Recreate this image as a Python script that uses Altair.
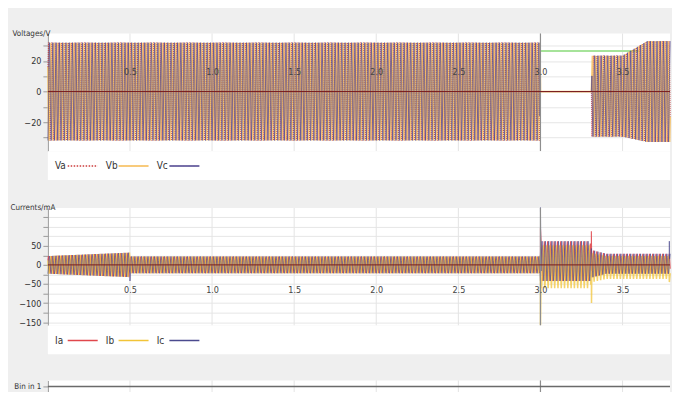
import numpy as np
import pandas as pd
import altair as alt

FONT = "Noto Sans ExtraCondensed, Noto Sans Condensed, DejaVu Sans Condensed, sans-serif"

# ---------------- data ----------------
T_END = 3.789                       # right edge of the visible time axis (s)
FREQ = 50                           # mains frequency of the traces (Hz)
CYCLE = [0.5, 1.0, 0.5, -0.5, -1.0, -0.5]   # one period, sampled 6 times
SHIFT = {"a": 0, "b": 2, "c": 4}    # 120 degree steps between phases

X_TICKS = [0.5, 1.0, 1.5, 2.0, 2.5, 3.0, 3.5]
EVENT_T = [3.0]

# Voltages (V): envelope breakpoints (time, amplitude, dc offset)
V_NAMES = ["Va", "Vb", "Vc"]
V_COLORS = ["#cc3d3d", "#f6b950", "#4a3f8c"]
V_ENV_T = [0.0, 2.998, 3.0, 3.31, 3.312, 3.50, 3.65, 3.789]
V_ENV_AMP = [32.0, 32.0, 0.0, 0.0, 26.5, 26.5, 33.0, 33.0]
V_ENV_OFF = [0.0, 0.0, 0.0, 0.0, -3.0, -3.0, 0.0, 0.0]
V_REF_T = [3.0, 3.6]
V_REF = [26.5, 26.5]

# Currents (mA): envelope breakpoints per phase
I_NAMES = ["Ia", "Ib", "Ic"]
I_COLORS = ["#e0474c", "#f2c438", "#4b4a8e"]
I_ENV_T = [0.0, 0.498, 0.5, 2.998, 3.0, 3.30, 3.312, 3.40, 3.789]
I_AMP_A = [23, 32, 22, 22, 52, 52, 36, 26, 26]
I_AMP_B = [23, 32, 22, 22, 56, 56, 38, 30, 30]
I_AMP_C = [23, 32, 22, 22, 52, 52, 36, 26, 26]
I_OFF_A = [0, 0, 0, 0, 10, 10, 3, 3, 3]
I_OFF_B = [0, 0, 0, 0, -5, -5, -7, -7, -7]
I_OFF_C = [0, 0, 0, 0, 10, 10, 3, 3, 3]
I_SPIKE_T = [0.5, 3.0, 3.0, 3.0, 3.31, 3.311, 3.785, 3.785]
I_SPIKE_PH = ["c", "c", "a", "b", "a", "b", "c", "b"]
I_SPIKE_V = [-42, 150, 97, -158, 88, -100, 62, -45]

BIN_T = [0.0, 3.789]
BIN_CH = ["Bin in 1", "Bin in 1"]

# ---------------- build tables ----------------
N = int(round(T_END * FREQ * len(CYCLE))) + 1
t = np.arange(N) / (FREQ * len(CYCLE))


def trace(env_t, amp, off, shift):
    a = np.interp(t, env_t, amp)
    o = np.interp(t, env_t, off)
    shape = np.array([CYCLE[(k + shift) % len(CYCLE)] for k in range(N)])
    return o + a * shape


v_rows = []
for ph in ["a", "b", "c"]:
    v_rows.append(pd.DataFrame({"t": t, "v": trace(V_ENV_T, V_ENV_AMP, V_ENV_OFF, SHIFT[ph]), "ph": ph}))
vdf = pd.concat(v_rows, ignore_index=True)

i_amp = {"a": I_AMP_A, "b": I_AMP_B, "c": I_AMP_C}
i_off = {"a": I_OFF_A, "b": I_OFF_B, "c": I_OFF_C}
i_rows = []
for ph in ["a", "b", "c"]:
    i_rows.append(pd.DataFrame({"t": t, "v": trace(I_ENV_T, i_amp[ph], i_off[ph], SHIFT[ph]), "ph": ph}))
i_rows.append(pd.DataFrame({"t": I_SPIKE_T, "v": I_SPIKE_V, "ph": I_SPIKE_PH}))
idf = pd.concat(i_rows, ignore_index=True).sort_values(["ph", "t"]).reset_index(drop=True)

ref_df = pd.DataFrame({"t": V_REF_T, "v": V_REF})
grid_df = pd.DataFrame({"t": X_TICKS})
event_df = pd.DataFrame({"t": EVENT_T})
bin_df = pd.DataFrame({"t": BIN_T, "ch": BIN_CH})

# ---------------- layout constants ----------------
W = 624
H = 118
LEG_H = 29
GAP1 = 28
GAP2 = 26
BIN_H = 12
ITEM = 51
WHITE = alt.ViewBackground(fill="white", strokeWidth=0)
GREY = alt.ViewBackground(fill="#efefef", strokeWidth=0)

xs = alt.Scale(domain=[0, T_END], nice=False, zero=False)


def label_axis(offset):
    return alt.Axis(values=X_TICKS, format=".1f", orient="bottom", offset=offset,
                    domain=False, ticks=False, tickSize=0, grid=False, labelPadding=0,
                    labelBaseline="top", zindex=1, title=None, labelColor="#444")


def wave_panel(df, colors, widths, opac, dashes, draw_order, ydom, yvals, ylabel_expr,
               title, title_x, lab_off, extra_under=None):
    ys = alt.Scale(domain=ydom, nice=False, zero=False)
    yaxis = alt.Axis(values=yvals, labelExpr=ylabel_expr, title=title, titleAngle=0,
                     titleAlign="left", titleBaseline="middle", titleX=title_x, titleY=0,
                     titleFontSize=8, tickSize=5, grid=True, zindex=0, labelPadding=2)
    xaxis = label_axis(lab_off)
    layers = [alt.Chart(grid_df).mark_rule(color="#e4e4e4", strokeWidth=1).encode(
        x=alt.X("t:Q", scale=xs, axis=xaxis))]
    if extra_under is not None:
        layers.append(extra_under.encode(
            x=alt.X("t:Q", scale=xs, axis=xaxis),
            y=alt.Y("v:Q", scale=ys, axis=yaxis)))
    base = alt.Chart(df)
    for ph in draw_order:
        k = ["a", "b", "c"].index(ph)
        mark = base.mark_line(color=colors[k], strokeWidth=widths[k], opacity=opac[k],
                              strokeDash=dashes[k], interpolate="linear")
        layers.append(mark.transform_filter(alt.datum.ph == ph).encode(
            x=alt.X("t:Q", scale=xs, axis=xaxis),
            y=alt.Y("v:Q", scale=ys, axis=yaxis)))
    layers.append(alt.Chart(event_df).mark_rule(color="#8e8e8e", strokeWidth=1.2).encode(
        x=alt.X("t:Q", scale=xs, axis=xaxis)))
    layers.append(alt.Chart(event_df).mark_rule(color="#7a1c1c", strokeWidth=1).encode(
        y=alt.YDatum(0, scale=ys, axis=yaxis)))
    return alt.layer(*layers).properties(width=W, height=H, view=WHITE)


def legend_chart(names, colors, dashes):
    df = pd.DataFrame({"name": names, "idx": list(range(len(names)))})
    base = alt.Chart(df).transform_calculate(
        lx="datum.idx + 0.14", sx="datum.idx + 0.39", sx2="datum.idx + 0.98")
    ls = alt.Scale(domain=[0, W / ITEM], nice=False, zero=False)
    text = base.mark_text(align="left", baseline="middle", font=FONT, fontSize=10,
                          color="#333").encode(
        x=alt.X("lx:Q", scale=ls, axis=None), y=alt.value(15), text="name:N")
    sym = base.mark_rule(strokeWidth=1.5).encode(
        x=alt.X("sx:Q", scale=ls, axis=None), x2="sx2:Q", y=alt.value(15),
        color=alt.Color("name:N", scale=alt.Scale(domain=names, range=colors), legend=None),
        strokeDash=alt.StrokeDash("name:N", scale=alt.Scale(domain=names, range=dashes),
                                  legend=None))
    return alt.layer(text, sym).properties(width=W, height=LEG_H, view=WHITE)


def spacer(h):
    return alt.Chart(grid_df).mark_point(opacity=0).encode(
        x=alt.value(0), y=alt.value(0)).properties(width=W, height=h, view=GREY)


# panel 1: voltages
ref_line = alt.Chart(ref_df).mark_line(color="#a6e39a", strokeWidth=2)
p1 = wave_panel(vdf, V_COLORS, [1.0, 1.7, 0.8], [0.9, 0.75, 0.9],
                [[1, 1], [1, 0], [1, 0]], ["a", "b", "c"],
                [-39, 38], list(range(-30, 31, 10)),
                "datum.value % 20 == 0 ? datum.label : ''",
                "Voltages/V", -36, -84, extra_under=ref_line)
l1 = legend_chart(V_NAMES, V_COLORS, [[1.5, 1.5], [1, 0], [1, 0]])

# panel 2: currents
p2 = wave_panel(idf, I_COLORS, [1.1, 1.5, 0.8], [0.9, 0.75, 0.9],
                [[1, 0], [1, 0], [1, 0]], ["a", "b", "c"],
                [-159, 149], list(range(-150, 151, 25)),
                "(datum.value % 50 == 0 && datum.value <= 50) ? datum.label : ''",
                "Currents/mA", -38, -40)
l2 = legend_chart(I_NAMES, I_COLORS, [[1, 0], [1, 0], [1, 0]])

# panel 3: binary input
bin_axis = alt.Axis(title=None, tickSize=5, grid=False, labelPadding=2, labelFontSize=8)
p3 = alt.layer(
    alt.Chart(grid_df).mark_rule(color="#e4e4e4", strokeWidth=1).encode(
        x=alt.X("t:Q", scale=xs, axis=None)),
    alt.Chart(event_df).mark_rule(color="#8e8e8e", strokeWidth=1.2).encode(
        x=alt.X("t:Q", scale=xs, axis=None)),
    alt.Chart(bin_df).mark_line(color="#6a6a6a", strokeWidth=1.5).encode(
        x=alt.X("t:Q", scale=xs, axis=None),
        y=alt.Y("ch:N", scale=alt.Scale(type="point", padding=0.5), axis=bin_axis)),
).properties(width=W, height=BIN_H, view=WHITE)

chart = alt.vconcat(p1, l1, spacer(GAP1), p2, l2, spacer(GAP2), p3,
                    spacing=0, bounds="flush").resolve_scale(
    color="independent", strokeDash="independent"
).properties(
    padding={"left": 2, "top": 21, "right": -2, "bottom": -2}
).configure(
    background="#efefef"
).configure_view(
    strokeWidth=0
).configure_axis(
    labelFont=FONT, titleFont=FONT, labelFontSize=9, titleFontSize=9,
    labelColor="#333", titleColor="#333", titleFontWeight="normal",
    domainColor="#9a9a9a", tickColor="#9a9a9a", gridColor="#e6e6e6"
)

chart.save("out.html", embed_options={"renderer": "svg", "actions": False})
